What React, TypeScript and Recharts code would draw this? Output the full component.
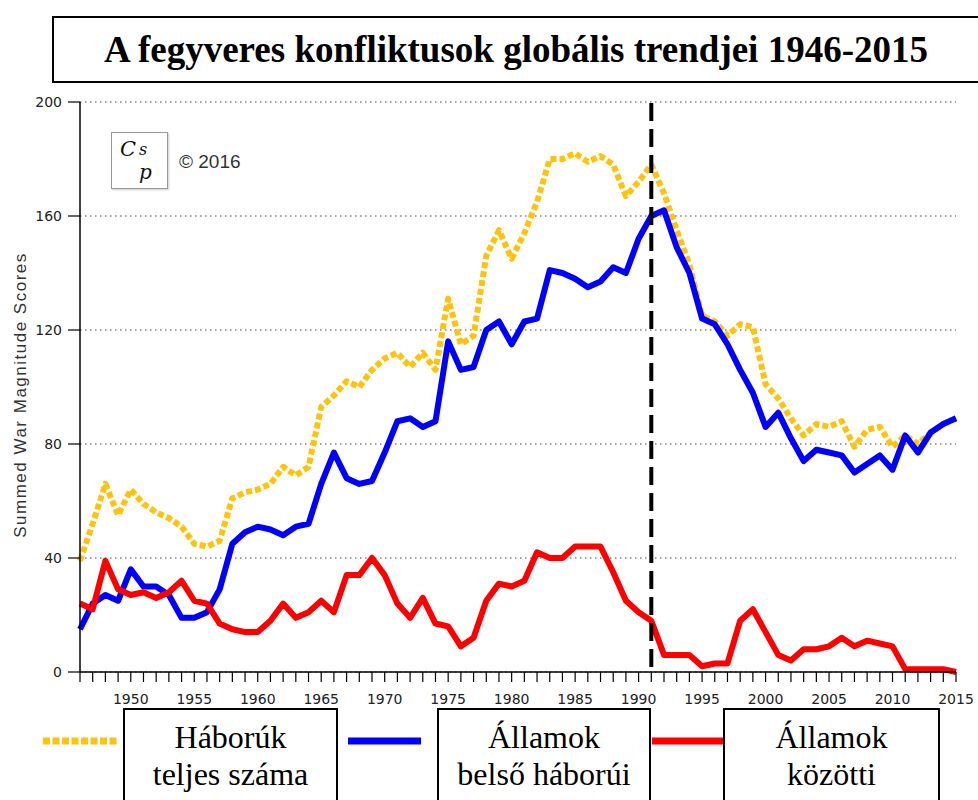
import React from "react"
import { LineChart, Line, XAxis, YAxis, CartesianGrid, ReferenceLine, Label } from "recharts"

const years = [
  1946, 1947, 1948, 1949, 1950, 1951, 1952, 1953, 1954, 1955,
  1956, 1957, 1958, 1959, 1960, 1961, 1962, 1963, 1964, 1965,
  1966, 1967, 1968, 1969, 1970, 1971, 1972, 1973, 1974, 1975,
  1976, 1977, 1978, 1979, 1980, 1981, 1982, 1983, 1984, 1985,
  1986, 1987, 1988, 1989, 1990, 1991, 1992, 1993, 1994, 1995,
  1996, 1997, 1998, 1999, 2000, 2001, 2002, 2003, 2004, 2005,
  2006, 2007, 2008, 2009, 2010, 2011, 2012, 2013, 2014, 2015,
]

const labelYears = [1950, 1955, 1960, 1965, 1970, 1975, 1980, 1985, 1990, 1995, 2000, 2005, 2010, 2015]
const yTicks = [0, 40, 80, 120, 160, 200]

// Háborúk teljes száma
const totalWars = [
  39, 52, 66, 55, 64, 59, 56, 54, 51, 45,
  44, 46, 61, 63, 64, 66, 72, 69, 72, 93,
  97, 102, 100, 106, 110, 112, 107, 112, 106, 131,
  115, 118, 146, 155, 145, 154, 165, 180, 180, 182,
  179, 181, 178, 167, 172, 178, 168, 155, 143, 125,
  123, 118, 122, 121, 101, 96, 89, 83, 87, 86,
  88, 79, 85, 86, 79, 83, 80, 84, 87, 89,
]

// Államok belső háborúi
const civilWars = [
  15, 24, 27, 25, 36, 30, 30, 27, 19, 19,
  21, 29, 45, 49, 51, 50, 48, 51, 52, 66,
  77, 68, 66, 67, 77, 88, 89, 86, 88, 116,
  106, 107, 120, 123, 115, 123, 124, 141, 140, 138,
  135, 137, 142, 140, 152, 160, 162, 149, 140, 124,
  122, 115, 106, 98, 86, 91, 82, 74, 78, 77,
  76, 70, 73, 76, 71, 83, 77, 84, 87, 89,
]

// Államok közötti
const interstateWars = [
  24, 22, 39, 29, 27, 28, 26, 28, 32, 25,
  24, 17, 15, 14, 14, 18, 24, 19, 21, 25,
  21, 34, 34, 40, 34, 24, 19, 26, 17, 16,
  9, 12, 25, 31, 30, 32, 42, 40, 40, 44,
  44, 44, 35, 25, 21, 18, 6, 6, 6, 2,
  3, 3, 18, 22, 14, 6, 4, 8, 8, 9,
  12, 9, 11, 10, 9, 1, 1, 1, 1, 0,
]

const markerYear = 1991

const data = years.map((year, i) => ({
  year,
  total: totalWars[i],
  civil: civilWars[i],
  interstate: interstateWars[i],
}))

const series = [
  { key: "total", lines: ["Háborúk", "teljes száma"], color: "#FFC20E", dash: "6 3" },
  { key: "civil", lines: ["Államok", "belső háborúi"], color: "#0000FF", dash: undefined },
  { key: "interstate", lines: ["Államok", "közötti"], color: "#FF0000", dash: undefined },
]

// legend layout: sample line span and the box next to it
const legendSlots = [
  { line: [43, 117], box: [123, 338] },
  { line: [348, 421], box: [437, 651] },
  { line: [652, 723], box: [723, 940] },
]

function YearTick(props: any) {
  const { x, y, payload } = props
  if (!labelYears.includes(payload.value)) return <g />
  return (
    <text x={x} y={y} dy="0.71em" textAnchor="middle" fontFamily="DejaVu Sans" fontSize={14} fill="#222">
      {payload.value}
    </text>
  )
}

function YTitle(props: any) {
  const vb = props.viewBox || { x: 19, y: 102, height: 570 }
  const cx = vb.x + 1
  const cy = vb.y + vb.height / 2 + 8
  return (
    <text
      x={cx}
      y={cy}
      transform={`rotate(-90 ${cx} ${cy})`}
      textAnchor="middle"
      dominantBaseline="central"
      fontFamily="Liberation Sans"
      fontSize={17}
      letterSpacing={1.5}
      fill="#333"
    >
      Summed War Magnitude Scores
    </text>
  )
}

const glyph = { position: "absolute" as const, lineHeight: 1 }

export default function App() {
  return (
    <div style={{ position: "absolute", left: 0, top: 0, width: 978, height: 800, overflow: "hidden", background: "#fff" }}>
      <LineChart width={978} height={800} data={data} margin={{ top: 102, right: 22, bottom: 98, left: 19 }}>
        <CartesianGrid vertical={false} stroke="#444" strokeDasharray="1.5 3.5" />
        <XAxis
          dataKey="year"
          type="number"
          domain={[1946, 2015]}
          ticks={years}
          interval={0}
          tick={<YearTick />}
          tickSize={10}
          tickMargin={12}
          height={30}
          axisLine={{ stroke: "#000", strokeWidth: 1.5 }}
          tickLine={{ stroke: "#000", strokeWidth: 1.2 }}
        />
        <YAxis
          domain={[0, 200]}
          ticks={yTicks}
          interval={0}
          width={61}
          tickSize={12}
          tickMargin={6}
          tick={{ fontFamily: "DejaVu Sans", fontSize: 14, fill: "#222" }}
          axisLine={{ stroke: "#000", strokeWidth: 1.5 }}
          tickLine={{ stroke: "#000", strokeWidth: 1.2 }}
        >
          <Label content={YTitle} />
        </YAxis>
        {series.map((s) => (
          <Line
            key={s.key}
            type="linear"
            dataKey={s.key}
            stroke={s.color}
            strokeWidth={6}
            strokeDasharray={s.dash}
            strokeLinejoin="round"
            dot={false}
            activeDot={false}
            isAnimationActive={false}
          />
        ))}
        <ReferenceLine x={markerYear} stroke="#000" strokeWidth={4} strokeDasharray="18 8" strokeDashoffset={-5} />
      </LineChart>

      {/* title box, open on the right: it runs off the page */}
      <div
        style={{
          position: "absolute",
          left: 52,
          top: 16,
          width: 924,
          paddingRight: 14,
          height: 63,
          borderTop: "2px solid #000",
          borderLeft: "2px solid #000",
          borderBottom: "2px solid #000",
          display: "flex",
          alignItems: "center",
          justifyContent: "center",
          fontFamily: "Liberation Serif",
          fontWeight: "bold",
          fontSize: 37,
          color: "#000",
          whiteSpace: "nowrap",
        }}
      >
        A fegyveres konfliktusok globális trendjei 1946-2015
      </div>

      {/* logo */}
      <div
        style={{
          position: "absolute",
          left: 111,
          top: 132,
          width: 55,
          height: 55,
          border: "1px solid #999",
          boxShadow: "1px 1px 2px #ccc",
          background: "#fff",
          fontFamily: "DejaVu Serif",
          fontStyle: "italic",
          color: "#111",
        }}
      >
        <span style={{ ...glyph, left: 8, top: 6, fontSize: 21 }}>C</span>
        <span style={{ ...glyph, left: 27, top: 9, fontSize: 16 }}>s</span>
        <span style={{ ...glyph, left: 27, top: 29, fontSize: 20 }}>p</span>
      </div>
      <div
        style={{
          position: "absolute",
          left: 179,
          top: 151,
          fontFamily: "Liberation Sans",
          fontSize: 19,
          color: "#333",
          whiteSpace: "nowrap",
        }}
      >
        © 2016
      </div>

      {/* legend */}
      {series.map((s, i) => {
        const slot = legendSlots[i]
        return (
          <React.Fragment key={s.key}>
            <svg
              style={{ position: "absolute", left: slot.line[0], top: 736 }}
              width={slot.line[1] - slot.line[0]}
              height={10}
            >
              <line
                x1={0}
                y1={5}
                x2={slot.line[1] - slot.line[0]}
                y2={5}
                stroke={s.color}
                strokeWidth={7}
                strokeDasharray={s.dash ? "7 2.5" : undefined}
              />
            </svg>
            <div
              style={{
                position: "absolute",
                left: slot.box[0],
                top: 708,
                width: slot.box[1] - slot.box[0] - 4,
                height: 120,
                border: "2px solid #000",
                background: "#fff",
                boxSizing: "content-box",
                fontFamily: "Liberation Serif",
                fontSize: 32,
                lineHeight: "37px",
                textAlign: "center",
                paddingTop: 9,
                color: "#000",
              }}
            >
              {s.lines.map((t) => (
                <div key={t}>{t}</div>
              ))}
            </div>
          </React.Fragment>
        )
      })}
    </div>
  )
}
